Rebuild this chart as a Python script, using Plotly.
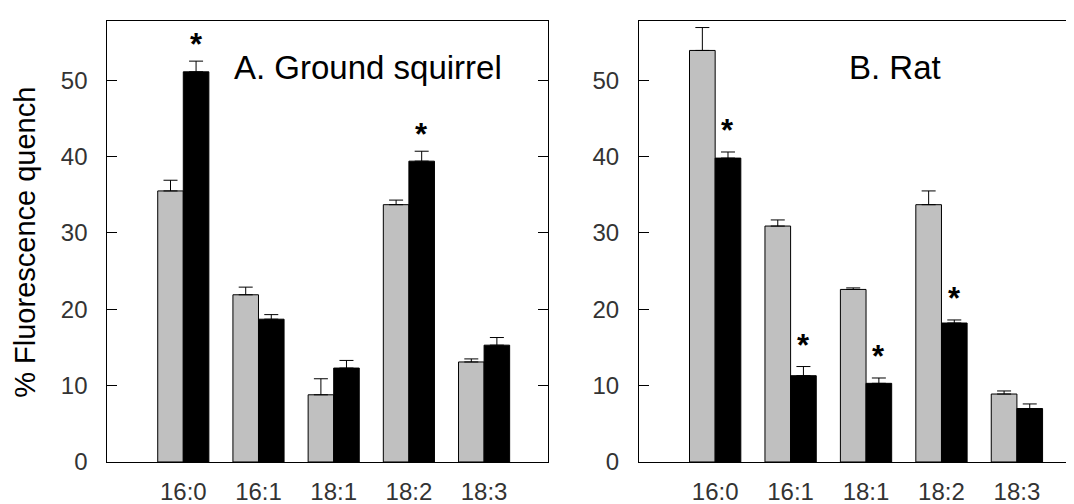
import plotly.graph_objects as go

categories = ["16:0", "16:1", "18:1", "18:2", "18:3"]

# Panel A: Ground squirrel
sq_grey = [35.5, 21.9, 8.8, 33.7, 13.1]
sq_grey_err = [1.4, 1.0, 2.1, 0.6, 0.4]
sq_black = [51.1, 18.7, 12.3, 39.4, 15.3]
sq_black_err = [1.4, 0.6, 1.0, 1.3, 1.0]
sq_sig = [True, False, False, True, False]

# Panel B: Rat
rat_grey = [53.9, 30.9, 22.6, 33.7, 8.9]
rat_grey_err = [3.0, 0.8, 0.2, 1.8, 0.4]
rat_black = [39.8, 11.3, 10.3, 18.2, 7.0]
rat_black_err = [0.8, 1.2, 0.7, 0.4, 0.6]
rat_sig = [True, True, True, True, False]

y_ticks = [0, 10, 20, 30, 40, 50]

FONT = "Liberation Sans, Arial, sans-serif"
GREY = "#c0c0c0"

fig = go.Figure()

panels = [
    ("x", "y", sq_grey, sq_grey_err, sq_black, sq_black_err, sq_sig, 2.2),
    ("x2", "y2", rat_grey, rat_grey_err, rat_black, rat_black_err, rat_sig, 2.8),
]

for xa, ya, g, ge, b, be, sig, off in panels:
    fig.add_trace(go.Bar(
        x=categories, y=g, xaxis=xa, yaxis=ya, offsetgroup="g",
        marker=dict(color=GREY, line=dict(color="black", width=1)),
        error_y=dict(type="data", array=ge, arrayminus=[0] * len(ge), symmetric=False,
                     color="black", thickness=1, width=7),
        showlegend=False, hoverinfo="skip",
    ))
    fig.add_trace(go.Bar(
        x=categories, y=b, xaxis=xa, yaxis=ya, offsetgroup="b",
        marker=dict(color="black", line=dict(color="black", width=1)),
        error_y=dict(type="data", array=be, arrayminus=[0] * len(be), symmetric=False,
                     color="black", thickness=1, width=7),
        showlegend=False, hoverinfo="skip",
    ))
    for i, s in enumerate(sig):
        if s:
            fig.add_annotation(
                x=i + 0.17, y=b[i] + be[i] + off, xref=xa, yref=ya,
                text="<b>*</b>", showarrow=False, yanchor="middle",
                font=dict(family=FONT, size=31, color="black"),
            )

fig.add_annotation(x=2.45, y=51.7, xref="x", yref="y", text="A. Ground squirrel",
                   showarrow=False, font=dict(family=FONT, size=33, color="black"))
fig.add_annotation(x=2.39, y=51.7, xref="x2", yref="y2", text="B. Rat",
                   showarrow=False, font=dict(family=FONT, size=33, color="black"))
fig.add_annotation(x=0.0158, y=0.5238, xref="paper", yref="paper", text="% Fluorescence quench",
                   textangle=-90, showarrow=False, xanchor="center", yanchor="middle",
                   font=dict(family=FONT, size=29, color="black"))

xrange = [-1.01, 4.85]
yrange = [0, 57.8]
common_x = dict(type="category", range=xrange, showline=True, linecolor="black", linewidth=1,
                mirror=True, ticks="", showgrid=False, zeroline=False,
                tickfont=dict(family=FONT, size=24, color="#333333"), ticklabelstandoff=8)
common_y = dict(range=yrange, showline=True, linecolor="black", linewidth=1, mirror="ticks",
                ticks="inside", ticklen=10, tickcolor="black", tickvals=y_ticks,
                showgrid=False, zeroline=False,
                tickfont=dict(family=FONT, size=24, color="#333333"), ticklabelstandoff=14)

fig.update_layout(
    width=1074, height=504,
    margin=dict(l=0, r=0, t=0, b=0),
    paper_bgcolor="white", plot_bgcolor="white",
    barmode="group", bargap=0.32, bargroupgap=0,
    xaxis=dict(domain=[0.0925, 0.5028], anchor="y", **common_x),
    yaxis=dict(domain=[0.0754, 0.9742], anchor="x", **common_y),
    xaxis2=dict(domain=[0.5875, 0.9991], anchor="y2", **common_x),
    yaxis2=dict(domain=[0.0754, 0.9742], anchor="x2", **common_y),
)

fig.write_html("out.html")
